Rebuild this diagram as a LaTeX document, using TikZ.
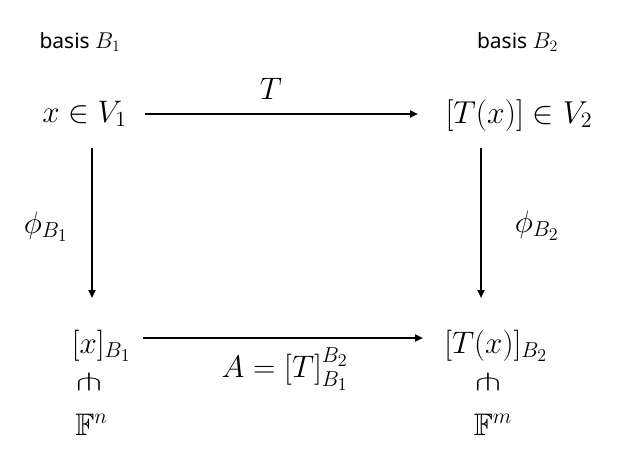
\documentclass[tikz,border=0pt]{standalone}
\usepackage{fontspec}
\setsansfont{Noto Sans}
\usepackage{amssymb}
\usepackage{graphicx}
\usetikzlibrary{arrows.meta}
\newcommand{\mymath}[1]{\scalebox{1.5}{$#1$}}
\newcommand{\lblmath}[1]{{\fontsize{20.74}{24}\selectfont\scalebox{1.1}{$#1$}}}
\begin{document}
\begin{tikzpicture}[x=1pt,y=-1pt,
  m/.style={inner sep=0pt,anchor=base,font=\fontsize{20.74}{24}\selectfont},
  lbl/.style={inner sep=0pt,anchor=base,font=\sffamily\fontsize{21}{25}\selectfont},
  arr/.style={line width=2pt,-{Triangle[length=8pt,width=7pt]}}]
\useasboundingbox (0,0) rectangle (619,464);
\node[lbl] (bas1) at (80,48) {basis \lblmath{B_1}};
\node[lbl] (bas2) at (517.5,48) {basis \lblmath{B_2}};
\node[m] (a) at (84.5,122) {\mymath{x\in V_1}};
\node[m] (b) at (519,123) {\scalebox{1.53}{$[T(x)]\in V_2$}};
\node[m] (c) at (101.5,353) {\mymath{[x]_{B_1}}};
\node[m] (d) at (496,353) {\mymath{[T(x)]_{B_2}}};
\node[m] (tl) at (271,99) {\mymath{T}};
\node[m] (pl) at (46,233) {\mymath{\phi_{B_1}}};
\node[m] (pr) at (537,232) {\mymath{\phi_{B_2}}};
\node[m] (al) at (285,377) {\mymath{A=[T]_{B_1}^{B_2}}};
\node[m] (i1) at (89,390) {\scalebox{1.9}[1.15]{$\pitchfork$}};
\node[m] (i2) at (488,390) {\scalebox{1.9}[1.15]{$\pitchfork$}};
\node[m] (f1) at (91.5,435) {\mymath{\mathbb{F}^n}};
\node[m] (f2) at (493,435) {\mymath{\mathbb{F}^m}};
\draw[arr] ([xshift=60.5pt,yshift=8pt]a.base) -- ([xshift=-101pt,yshift=9pt]b.base);
\draw[arr] ([xshift=7.5pt,yshift=-26pt]a.base) -- ([xshift=-9.5pt,yshift=55pt]c.base);
\draw[arr] ([xshift=-38pt,yshift=-25pt]b.base) -- ([xshift=-15pt,yshift=55pt]d.base);
\draw[arr] ([xshift=41.5pt,yshift=15pt]c.base) -- ([xshift=-73pt,yshift=15pt]d.base);
\end{tikzpicture}
\end{document}
